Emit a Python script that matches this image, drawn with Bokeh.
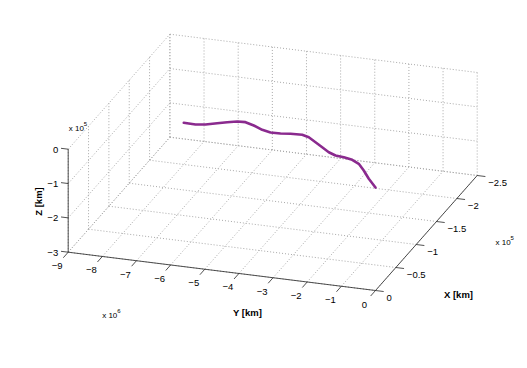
import numpy as np
from bokeh.plotting import figure
from bokeh.models import Range1d
from bokeh.core.properties import value
from bokeh.embed import file_html
from bokeh.resources import INLINE

# ---------------- data ----------------
# trajectory (X in 1e5 km, Y in 1e6 km, Z in 1e5 km)
traj_y = [-6.566, -6.218, -5.954, -5.676, -5.435, -5.188, -4.953, -4.657, -4.335,
          -4.053, -3.766, -3.495, -3.163, -2.933, -2.640, -2.346, -2.056, -1.802,
          -1.543, -1.261, -0.994, -0.706, -0.380, 0.0]
traj_x = [-0.799, -0.794, -0.819, -0.873, -0.917, -0.955, -0.962, -0.917, -0.853,
          -0.821, -0.826, -0.844, -0.853, -0.822, -0.741, -0.659, -0.577, -0.529,
          -0.516, -0.486, -0.423, -0.304, -0.154, 0.0]
traj_z = [0.0] * len(traj_y)

x_ticks = [0, -0.5, -1, -1.5, -2, -2.5]
x_tick_labels = ["0", "\u22120.5", "\u22121", "\u22121.5", "\u22122", "\u22122.5"]
y_ticks = [-9, -8, -7, -6, -5, -4, -3, -2, -1, 0]
y_tick_labels = ["\u22129", "\u22128", "\u22127", "\u22126", "\u22125", "\u22124",
                 "\u22123", "\u22122", "\u22121", "0"]
z_ticks = [-3, -2, -1, 0]
z_tick_labels = ["\u22123", "\u22122", "\u22121", "0"]

X_MIN, X_MAX = -2.5, 0.0
Y_MIN, Y_MAX = -9.0, 0.0
Z_MIN, Z_MAX = -3.0, 0.0

# ---------------- projection (orthographic view) ----------------
ORIGIN = np.array([67.7, 251.7])       # screen position of (x=0, y=-9, z=-3)
VX = np.array([101.7, -115.0])          # screen vector for x: 0 -> -2.5
VY = np.array([307.3, 38.3])            # screen vector for y: -9 -> 0
VZ = np.array([0.0, -103.0])            # screen vector for z: -3 -> 0


def proj(x, y, z):
    x = np.asarray(x, dtype=float)
    y = np.asarray(y, dtype=float)
    z = np.asarray(z, dtype=float)
    fx = (X_MAX - x) / (X_MAX - X_MIN)
    fy = (y - Y_MIN) / (Y_MAX - Y_MIN)
    fz = (z - Z_MIN) / (Z_MAX - Z_MIN)
    sx = ORIGIN[0] + fx * VX[0] + fy * VY[0] + fz * VZ[0]
    sy = ORIGIN[1] + fx * VX[1] + fy * VY[1] + fz * VZ[1]
    return sx, sy


def seg(p0, p1):
    a = proj(*p0)
    b = proj(*p1)
    return [float(a[0]), float(b[0])], [float(a[1]), float(b[1])]


p = figure(width=519, height=352, output_backend="svg", toolbar_location=None,
           x_range=Range1d(0, 519), y_range=Range1d(352, 0),
           x_axis_type=None, y_axis_type=None, min_border=0,
           background_fill_color="white", border_fill_color="white")
p.outline_line_color = None
p.grid.visible = False

# ---------------- grid (dotted) ----------------
gxs, gys = [], []
# floor z = Z_MIN
for yv in y_ticks:
    xs, ys = seg((X_MAX, yv, Z_MIN), (X_MIN, yv, Z_MIN)); gxs.append(xs); gys.append(ys)
for xv in x_ticks:
    xs, ys = seg((xv, Y_MIN, Z_MIN), (xv, Y_MAX, Z_MIN)); gxs.append(xs); gys.append(ys)
# back wall x = X_MIN
for yv in y_ticks:
    xs, ys = seg((X_MIN, yv, Z_MIN), (X_MIN, yv, Z_MAX)); gxs.append(xs); gys.append(ys)
for zv in z_ticks:
    xs, ys = seg((X_MIN, Y_MIN, zv), (X_MIN, Y_MAX, zv)); gxs.append(xs); gys.append(ys)
# left wall y = Y_MIN
for xv in x_ticks:
    xs, ys = seg((xv, Y_MIN, Z_MIN), (xv, Y_MIN, Z_MAX)); gxs.append(xs); gys.append(ys)
for zv in z_ticks:
    xs, ys = seg((X_MAX, Y_MIN, zv), (X_MIN, Y_MIN, zv)); gxs.append(xs); gys.append(ys)
p.multi_line(gxs, gys, line_color="#a8a8a8", line_width=1, line_dash="1 2")

# ---------------- axes lines and ticks ----------------
axs, ays = [], []
for a0, a1 in [((X_MAX, Y_MIN, Z_MIN), (X_MAX, Y_MIN, Z_MAX)),   # z axis
               ((X_MAX, Y_MIN, Z_MIN), (X_MAX, Y_MAX, Z_MIN)),   # y axis
               ((X_MAX, Y_MAX, Z_MIN), (X_MIN, Y_MAX, Z_MIN))]:  # x axis
    xs, ys = seg(a0, a1); axs.append(xs); ays.append(ys)
for yv in y_ticks:
    xs, ys = seg((X_MAX, yv, Z_MIN), (X_MAX + 0.12, yv, Z_MIN)); axs.append(xs); ays.append(ys)
for xv in x_ticks:
    xs, ys = seg((xv, Y_MAX, Z_MIN), (xv, Y_MAX + 0.24, Z_MIN)); axs.append(xs); ays.append(ys)
for zv in z_ticks:
    xs, ys = seg((X_MAX, Y_MIN, zv), (X_MAX, Y_MIN - 0.21, zv)); axs.append(xs); ays.append(ys)
p.multi_line(axs, ays, line_color="#262626", line_width=0.8)

# ---------------- trajectory ----------------
tx, ty = proj(traj_x, traj_y, traj_z)
p.line(tx, ty, line_color="#8a2a8e", line_width=2.6, line_cap="round", line_join="round")

# ---------------- texts ----------------
FONT = value("Liberation Sans")
TS = "9.5px"

sx, sy = proj([X_MAX] * len(y_ticks), y_ticks, [Z_MIN] * len(y_ticks))
p.text(sx - 11, sy + 14, text=y_tick_labels, text_align="center", text_baseline="middle",
       text_font=FONT, text_font_size=TS, text_color="black")

sx, sy = proj(x_ticks, [Y_MAX] * len(x_ticks), [Z_MIN] * len(x_ticks))
p.text(sx + 11, sy + 7, text=x_tick_labels, text_align="left", text_baseline="middle",
       text_font=FONT, text_font_size=TS, text_color="black")

sx, sy = proj([X_MAX] * len(z_ticks), [Y_MIN] * len(z_ticks), z_ticks)
p.text(sx - 10, sy + 0.5, text=z_tick_labels, text_align="right", text_baseline="middle",
       text_font=FONT, text_font_size=TS, text_color="black")

# exponent labels
exp_x = [68.3, 101.7, 495.0]
exp_y = [128.0, 315.0, 241.5]
exp_pow = ["5", "6", "5"]
p.text(exp_x, exp_y, text=["x 10"] * 3, text_align="left", text_baseline="alphabetic",
       text_font=FONT, text_font_size="8px", text_color="black")
p.text([x + 15 for x in exp_x], [y - 4.5 for y in exp_y], text=exp_pow, text_align="left",
       text_baseline="alphabetic", text_font=FONT, text_font_size="6px", text_color="black")

# axis titles
p.text([247, 458], [311.5, 293.5], text=["Y [km]", "X [km]"], text_align="center",
       text_baseline="middle", text_font=FONT, text_font_size="9.5px",
       text_font_style="bold", text_color="black")
p.text([37.5], [201], text=["Z [km]"], angle=np.pi / 2, text_align="center",
       text_baseline="middle", text_font=FONT, text_font_size="9.5px",
       text_font_style="bold", text_color="black")

open("out.html", "w").write(file_html(p, INLINE))
